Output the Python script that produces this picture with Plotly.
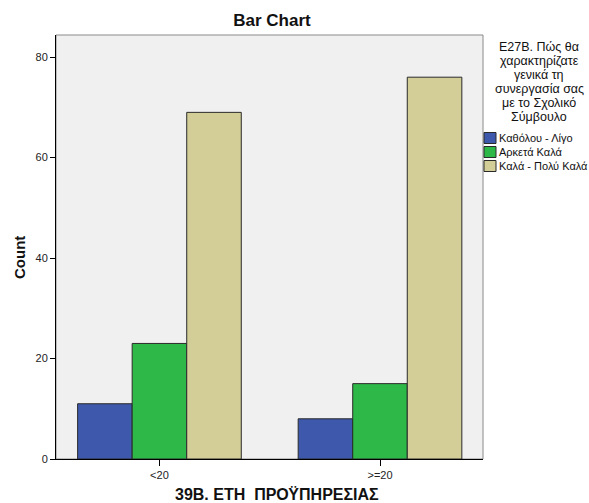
import plotly.graph_objects as go

categories = ["<20", ">=20"]
series_names = ["Καθόλου - Λίγο", "Αρκετά Καλά", "Καλά - Πολύ Καλά"]
values_katholou = [11, 8]
values_arketa = [23, 15]
values_kala = [69, 76]
series_values = [values_katholou, values_arketa, values_kala]
colors = ["#3E58AC", "#2EB848", "#D3CE97"]
y_ticks = [0, 20, 40, 60, 80]
legend_title_lines = ["Ε27Β. Πώς θα", "χαρακτηρίζατε", "γενικά τη",
                      "συνεργασία σας", "με το Σχολικό", "Σύμβουλο"]

FONT = "Arial, 'Liberation Sans', sans-serif"
W, H = 589, 503
ML, MR, MT, MB = 56, 106, 35, 44
PW, PH = W - ML - MR, H - MT - MB

fig = go.Figure()
for name, vals, col in zip(series_names, series_values, colors):
    fig.add_trace(go.Bar(
        x=categories, y=vals, name=name,
        marker=dict(color=col, line=dict(color="#2a2a2a", width=1)),
        showlegend=False,
    ))

def px_x(px):
    return (px - ML) / PW

def px_y(py):
    return (H - MB - py) / PH

annotations = []
shapes = [dict(type="rect", xref="paper", yref="paper", x0=0, x1=1, y0=0, y1=1,
               line=dict(color="#8a8a8a", width=1), layer="below")]

# legend title lines
title_y = [47, 61, 75, 89, 103, 117]
for line, yy in zip(legend_title_lines, title_y):
    annotations.append(dict(text=line, xref="paper", yref="paper",
                            x=px_x(539), y=px_y(yy), xanchor="center", yanchor="middle",
                            showarrow=False, font=dict(family=FONT, size=12.5, color="#111")))

# legend items
item_y = [138, 152, 166]
for name, col, yy in zip(series_names, colors, item_y):
    shapes.append(dict(type="rect", xref="paper", yref="paper",
                       x0=px_x(484), x1=px_x(496), y0=px_y(yy + 5.5), y1=px_y(yy - 5.5),
                       fillcolor=col, line=dict(color="#2a2a2a", width=1), layer="above"))
    annotations.append(dict(text=name, xref="paper", yref="paper",
                            x=px_x(497), y=px_y(yy), xanchor="left", yanchor="middle",
                            showarrow=False, font=dict(family=FONT, size=11, color="#111")))

# axis titles placed as annotations for exact placement
annotations.append(dict(text="<b>39Β. ΕΤΗ \u00a0ΠΡΟΫΠΗΡΕΣΙΑΣ</b>", xref="paper", yref="paper",
                        x=px_x(277), y=px_y(494), xanchor="center", yanchor="middle",
                        showarrow=False, font=dict(family=FONT, size=16, color="#111")))
annotations.append(dict(text="<b>Count</b>", xref="paper", yref="paper",
                        x=px_x(19), y=px_y(258), xanchor="center", yanchor="middle",
                        textangle=-90, showarrow=False,
                        font=dict(family=FONT, size=15, color="#111")))

fig.update_layout(
    width=W, height=H,
    margin=dict(l=ML, r=MR, t=MT, b=MB, autoexpand=False),
    paper_bgcolor="white", plot_bgcolor="#F0F0F0",
    barmode="group", bargap=0.258, bargroupgap=0,
    font=dict(family=FONT, size=12, color="#222"),
    title=dict(text="<b>Bar Chart</b>", x=px_x(272), xref="paper", y=1 - 20 / H,
               yref="container", xanchor="center", yanchor="middle",
               font=dict(family=FONT, size=17, color="#111")),
    xaxis=dict(type="category", range=[-0.469, 1.467], showgrid=False, zeroline=False,
               automargin=False,
               showline=True, linecolor="#000", linewidth=1,
               ticks="outside", ticklen=6, tickcolor="#000",
               tickfont=dict(family=FONT, size=11, color="#222")),
    yaxis=dict(range=[0, 84.4], tickvals=y_ticks, showgrid=False, zeroline=False,
               automargin=False,
               showline=True, linecolor="#000", linewidth=1,
               ticks="outside", ticklen=5, tickcolor="#000",
               tickfont=dict(family=FONT, size=11, color="#222")),
    annotations=annotations, shapes=shapes,
)

fig.write_html("out.html", config={"displayModeBar": False},
               post_script="document.body.style.margin='0';document.body.style.padding='0';")
